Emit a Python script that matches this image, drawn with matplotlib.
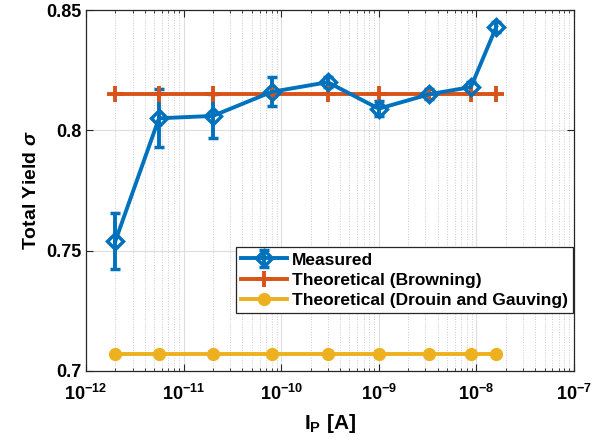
import numpy as np
import matplotlib
matplotlib.use('Agg')
import matplotlib.pyplot as plt
from matplotlib.ticker import FuncFormatter, LogLocator, NullFormatter

# primary beam current [A]
current = [2e-12, 5.6e-12, 2e-11, 8e-11, 3e-10, 1e-9, 3.3e-9, 8.8e-9, 1.6e-8]

# measured total yield and its error
yield_measured = [0.754, 0.805, 0.806, 0.816, 0.820, 0.809, 0.815, 0.818, 0.843]
yield_err = [0.0115, 0.012, 0.009, 0.006, 0.002, 0.003, 0.002, 0.002, 0.002]

# theoretical values
yield_browning = [0.815] * len(current)
yield_drouin = [0.707] * len(current)

labels = ['Measured', 'Theoretical (Browning)', 'Theoretical (Drouin and Gauving)']
x_ticks = [1e-12, 1e-11, 1e-10, 1e-9, 1e-8, 1e-7]
y_ticks = [0.7, 0.75, 0.8, 0.85]

plt.rcParams['font.family'] = ['Liberation Sans', 'DejaVu Sans']
plt.rcParams['font.weight'] = 'bold'
plt.rcParams['axes.labelweight'] = 'bold'
plt.rcParams['mathtext.fontset'] = 'custom'
plt.rcParams['mathtext.rm'] = 'Liberation Sans:bold'
plt.rcParams['mathtext.bf'] = 'Liberation Sans:bold'
plt.rcParams['mathtext.it'] = 'Liberation Sans:italic'

blue = '#0072BD'
orange = '#D95319'
yellow = '#EDB120'

fig = plt.figure(figsize=(6.08, 4.45), dpi=100)
ax = fig.add_axes([0.1414, 0.1663, 0.8026, 0.8112])

h1 = ax.errorbar(current, yield_measured, yerr=yield_err, color=blue, lw=2.8,
                 marker='D', ms=8, mfc='none', mew=2.5, capsize=3.5, capthick=2.8,
                 elinewidth=2.8, label=labels[0])
h2, = ax.plot(current, yield_browning, color=orange, lw=2.8, marker='+', ms=12,
              mew=2.8, label=labels[1])
h3, = ax.plot(current, yield_drouin, color=yellow, lw=2.8, marker='o', ms=8.5,
              label=labels[2])

ax.set_xscale('log')
ax.set_xlim(1e-12, 1e-7)
ax.set_ylim(0.7, 0.85)
ax.set_yticks(y_ticks)
ax.set_yticklabels([f'{v:g}' for v in y_ticks])
ax.set_xticks(x_ticks)
ax.xaxis.set_minor_locator(LogLocator(base=10, subs=np.arange(2, 10), numticks=20))
ax.xaxis.set_minor_formatter(NullFormatter())
ax.xaxis.set_major_formatter(FuncFormatter(
    lambda v, p: r'$\mathbf{10^{%d}}$' % int(round(np.log10(v)))))

ax.grid(True, which='major', color='#dedede', lw=0.8)
ax.grid(True, which='minor', axis='x', color='#cccccc', ls=':', lw=0.7)
ax.set_axisbelow(True)

ax.tick_params(which='both', direction='in', top=True, right=True,
               color='#262626', labelsize=13)
ax.tick_params(which='major', length=5)
ax.tick_params(which='minor', length=2.5)
ax.tick_params(axis='x', which='major', pad=9)
for s in ax.spines.values():
    s.set_color('#262626')
    s.set_linewidth(0.9)

ax.set_xlabel(r'$\mathbf{I_P}$ [A]', fontsize=15, labelpad=6)
ax.set_ylabel(r'Total Yield $\sigma$', fontsize=14)

leg = ax.legend([h1, h2, h3], labels, loc='upper right',
                bbox_to_anchor=(0.998, 0.343), fontsize=12.5,
                frameon=True, fancybox=False, borderaxespad=0, handlelength=2.6,
                handletextpad=0.3, borderpad=0.3, labelspacing=0.3)
leg.get_frame().set_edgecolor('#262626')
leg.get_frame().set_linewidth(0.9)
leg.get_frame().set_alpha(1)

fig.savefig('out.png', dpi=100)
